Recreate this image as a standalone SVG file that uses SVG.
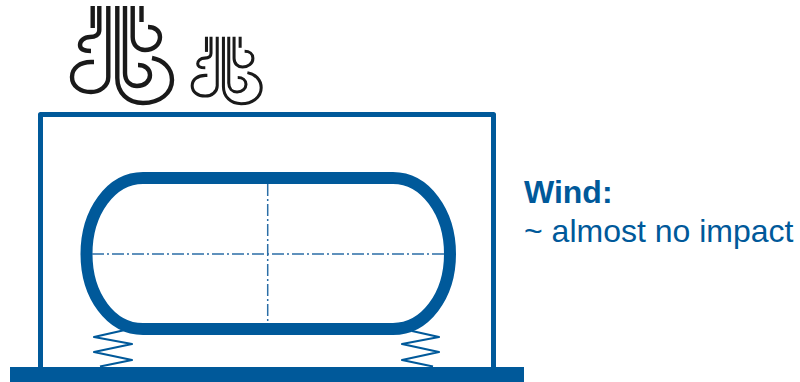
<svg xmlns="http://www.w3.org/2000/svg" xmlns:xlink="http://www.w3.org/1999/xlink" width="800" height="382" viewBox="0 0 800 382">
<style>
.blue{fill:none;stroke:#00599a;stroke-linejoin:round}
.center{fill:none;stroke:#2b6ea6;stroke-width:1.500;stroke-dasharray:12 3 2 3}
.wind{fill:none;stroke:#1a1a1a;stroke-width:4.400;stroke-linecap:butt}
.label{font-family:"Liberation Sans",Arial,sans-serif;font-size:32px;fill:#00599a}
</style>
<defs>
<g id="windIcon">
<path class="wind" d="M92.700 6V28"/>
<path class="wind" d="M99.300 6V30C99.300 35 95 37 90 37C84 37 80 41 80 45C80 49 84 51 91 51"/>
<path class="wind" d="M108.300 6V77C108.300 86 100 92 91 92C80 92 72 86 72 77C72 68 80 62 91 62H94"/>
<path class="wind" d="M117.300 6V78C117.300 93 128 103 143 103C160 103 172 93 172 80C172 68 163 60 152 58"/>
<path class="wind" d="M125 6V73C125 81 130 86 137 86C145 86 150 81 150 75C150 69 145 65 138 65"/>
<path class="wind" d="M132.700 6V37C132.700 45 138 50 145 50C153 50 160 45 160 37C160 31 155 27 148 27"/>
<path class="wind" d="M141.500 6V22"/>
</g>
</defs>
<g id="wind-large"><use href="#windIcon"/></g>
<g id="wind-small"><use href="#windIcon" transform="translate(142.500 32.600) scale(0.69)"/></g>
<g id="frame"><path class="blue" stroke-width="5" d="M40.500 368V114.500H493.500V368"/></g>
<g id="base"><rect x="10" y="367" width="514" height="15" fill="#00599a"/></g>
<g id="vessel">
<path class="blue" stroke-width="12" d="M143 178H393C425 178 450 212 450 254C450 296 425 329 393 329H143C111 329 86.500 296 86.500 254C86.500 212 111 178 143 178Z"/>
<path class="center" d="M92 254H444"/>
<path class="center" d="M267.700 184V323"/>
</g>
<g id="connectors">
<path class="blue" stroke-width="2.200" d="M125 330L94 337L132 344L94 352L132 360L100 366.500"/>
<path class="blue" stroke-width="2.200" d="M412 331L439 337L402 344L439 352L402 360L433 366.500"/>
</g>
<g id="caption">
<text class="label" x="524" y="203" font-weight="bold">Wind:</text>
<text class="label" x="524" y="242">~ almost no impact</text>
</g>
</svg>
